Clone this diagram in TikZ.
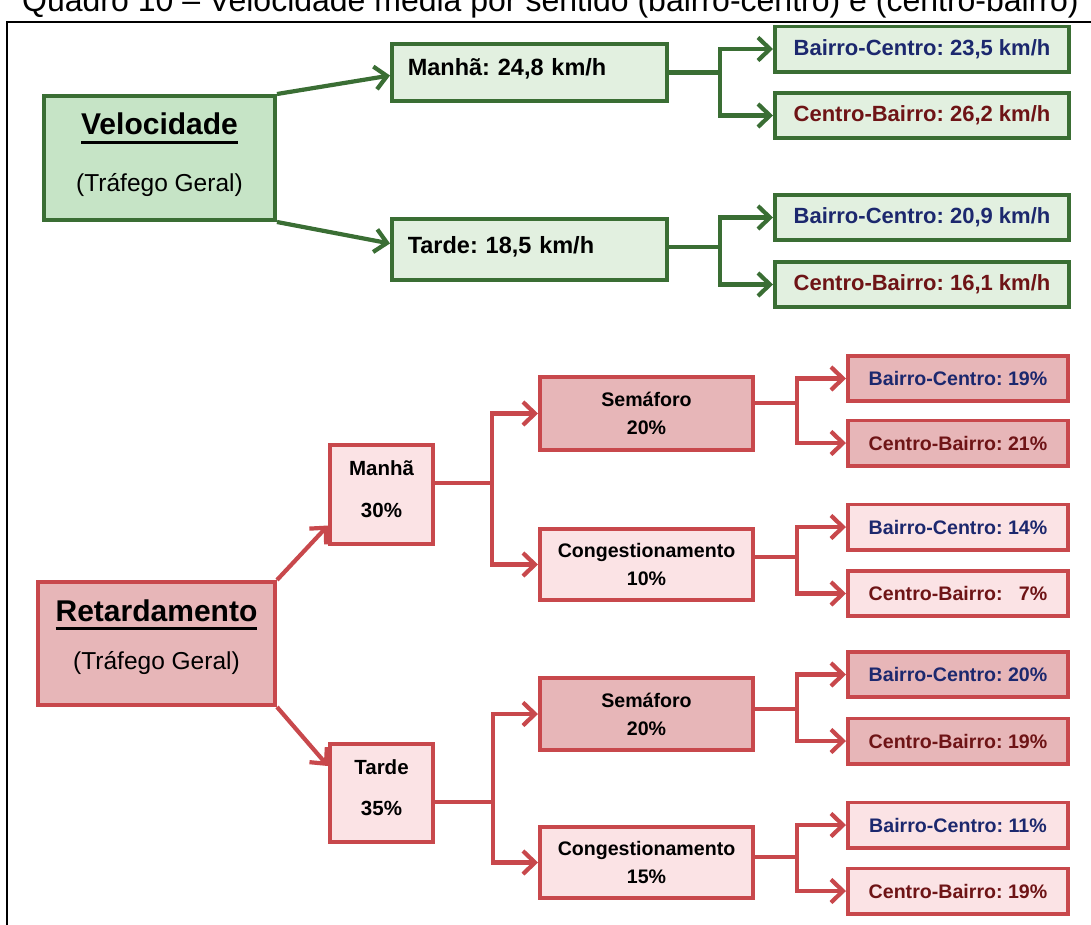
\documentclass[tikz,border=0pt]{standalone}
\usepackage{fontspec}
\setmainfont{Liberation Sans}
\usetikzlibrary{arrows.meta,shadows}

\definecolor{gline}{RGB}{58,110,52}
\definecolor{gmid}{RGB}{198,228,198}
\definecolor{gpale}{RGB}{226,240,224}
\definecolor{rline}{RGB}{200,72,76}
\definecolor{rmid}{RGB}{231,182,184}
\definecolor{rpale}{RGB}{251,227,229}
\definecolor{navy}{RGB}{28,40,110}
\definecolor{maroon}{RGB}{110,20,22}

% heavy underline: #1 = drop below the baseline
\newcommand\ulword[2]{\sbox0{#2}\rlap{\rule[-#1]{\wd0}{3pt}}\usebox0}
\newcommand\fs[2]{\fontsize{#1}{#2}\selectfont}
\newcommand\lowstrut[1]{\rule[-#1]{0pt}{0pt}}

\tikzset{
  box/.style={draw, line width=3.6pt, inner sep=0pt, align=center, font=\bfseries,
    drop shadow={opacity=0.22, shadow xshift=1.5pt, shadow yshift=-2pt}},
  gbox/.style={box, draw=gline, fill=gpale},
  rbox/.style={box, draw=rline, fill=rpale},
  gleaf/.style={gbox, minimum width=294.4pt, minimum height=45.4pt,
    font=\bfseries\fs{22}{26}, text height=16pt, text depth=4pt},
  rleaf/.style={rbox, minimum width=220.4pt, minimum height=45.4pt,
    font=\bfseries\fs{19.6}{24}, text height=14pt, text depth=0pt},
  rmidbox/.style={rbox, minimum width=213.4pt, font=\bfseries\fs{19.6}{28}},
  gconn/.style={draw=gline, line width=4.2pt},
  rconn/.style={draw=rline, line width=4.2pt},
  tipstyle/.style={-{Straight Barb[length=12pt, width=23pt, line width=4.2pt]}},
  garrow/.style={gconn, tipstyle},
  rarrow/.style={rconn, tipstyle},
}

\begin{document}
\frenchspacing
\begin{tikzpicture}[x=1pt,y=-1pt]
\useasboundingbox (0,0) rectangle (1091,924);
\clip (0,0) rectangle (1091,924);
\fill[white] (0,0) rectangle (1091,924);

% caption and frame
\node[anchor=base west, inner sep=0pt, font=\fs{32}{38}] (cap) at (22,11)
  {Quadro 10 – Velocidade média por sentido (bairro-centro) e (centro-bairro)};
\draw[line width=2.6pt] (7,940) -- (7,22) -- (1110,22);

% ---------- Velocidade ----------
\node[gbox, fill=gmid, minimum width=231.4pt, minimum height=124.4pt, font=\fs{24.5}{57}] (vel)
  at (159.5,158) {{\fs{30}{57}\bfseries\ulword{9pt}{Velocidade}}\\(Tráfego Geral)\lowstrut{11pt}};

\node[gbox, minimum height=57.4pt, text width=243.4pt, inner xsep=16pt, align=left,
  font=\bfseries\fs{23.5}{28}, text height=17pt, text depth=11pt] (manha)
  at (529.5,72.5) {Manhã: 24,8 km/h};
\node[gbox, minimum height=61.4pt, text width=243.4pt, inner xsep=16pt, align=left,
  font=\bfseries\fs{23.5}{28}, text height=17pt, text depth=10pt] (tarde)
  at (529.5,249.5) {Tarde: 18,5 km/h};

\node[gleaf, text=navy]   (bc1) at (922,49)    {Bairro-Centro: 23,5 km/h};
\node[gleaf, text=maroon] (cb1) at (922,115.5) {Centro-Bairro: 26,2 km/h};
\node[gleaf, text=navy]   (bc2) at (922,217.5) {Bairro-Centro: 20,9 km/h};
\node[gleaf, text=maroon] (cb2) at (922,284.5) {Centro-Bairro: 16,1 km/h};

\draw[garrow] (vel.north east) -- ([yshift=-3pt]manha.west);
\draw[garrow] (vel.south east) -- ([yshift=6pt]tarde.west);

\coordinate (fg1) at (720,72.5);
\draw[gconn] (manha.east) -- (fg1);
\draw[garrow] (fg1) |- (bc1.west);
\draw[garrow] (fg1) |- (cb1.west);

\coordinate (fg2) at (720,247);
\draw[gconn] ([yshift=2.5pt]tarde.east) -- (fg2);
\draw[garrow] (fg2) |- (bc2.west);
\draw[garrow] (fg2) |- (cb2.west);

% ---------- Retardamento ----------
\node[rbox, fill=rmid, minimum width=237.4pt, minimum height=123.4pt, font=\fs{24.5}{48}] (ret)
  at (156.5,643.5) {{\fs{30}{48}\bfseries\ulword{8.5pt}{Retardamento}}\\(Tráfego Geral)\lowstrut{17pt}};

\node[rbox, minimum width=103.4pt, minimum height=99.4pt, font=\bfseries\fs{20.5}{42}] (m30)
  at (381.5,494.5) {Manhã\\30\%\lowstrut{11pt}};
\node[rbox, minimum width=103.4pt, minimum height=98.4pt, font=\bfseries\fs{20.5}{41}] (t35)
  at (381.5,793) {Tarde\\35\%\lowstrut{11pt}};

\node[rmidbox, fill=rmid, minimum height=73.4pt] (sem1) at (646.5,413.5) {Semáforo\\20\%};
\node[rmidbox, minimum height=71.4pt]            (con1) at (646.5,564.5) {Congestionamento\\10\%};
\node[rmidbox, fill=rmid, minimum height=72.4pt] (sem2) at (646.5,714)   {Semáforo\\20\%};
\node[rmidbox, minimum height=71.4pt]            (con2) at (646.5,862.5) {Congestionamento\\15\%};

\node[rleaf, fill=rmid, text=navy]   (r1) at (958,378.5) {Bairro-Centro: 19\%};
\node[rleaf, fill=rmid, text=maroon] (r2) at (958,443)   {Centro-Bairro: 21\%};
\node[rleaf, text=navy]              (r3) at (958,527)   {Bairro-Centro: 14\%};
\node[rleaf, text=maroon]            (r4) at (958,593.5) {Centro-Bairro: \phantom{2}7\%};
\node[rleaf, fill=rmid, text=navy]   (r5) at (958,674.5) {Bairro-Centro: 20\%};
\node[rleaf, fill=rmid, text=maroon] (r6) at (958,741)   {Centro-Bairro: 19\%};
\node[rleaf, text=navy]              (r7) at (958,825)   {Bairro-Centro: 11\%};
\node[rleaf, text=maroon]            (r8) at (958,891)   {Centro-Bairro: 19\%};

\draw[rarrow] (ret.north east) -- ([yshift=-31pt]m30.west);
\draw[rarrow] (ret.south east) -- ([yshift=27pt]t35.west);

\coordinate (fr1) at (492,483);
\draw[rconn] ([yshift=11.5pt]m30.east) -- (fr1);
\draw[rarrow] (fr1) |- (sem1.west);
\draw[rarrow] (fr1) |- (con1.west);

\coordinate (fr2) at (493,802);
\draw[rconn] ([yshift=-9pt]t35.east) -- (fr2);
\draw[rarrow] (fr2) |- (sem2.west);
\draw[rarrow] (fr2) |- (con2.west);

\coordinate (fr3) at (797,403);
\draw[rconn] ([yshift=10.5pt]sem1.east) -- (fr3);
\draw[rarrow] (fr3) |- (r1.west);
\draw[rarrow] (fr3) |- (r2.west);

\coordinate (fr4) at (797,557);
\draw[rconn] ([yshift=7.5pt]con1.east) -- (fr4);
\draw[rarrow] (fr4) |- (r3.west);
\draw[rarrow] (fr4) |- (r4.west);

\coordinate (fr5) at (797,709);
\draw[rconn] ([yshift=5pt]sem2.east) -- (fr5);
\draw[rarrow] (fr5) |- (r5.west);
\draw[rarrow] (fr5) |- (r6.west);

\coordinate (fr6) at (797,857);
\draw[rconn] ([yshift=5.5pt]con2.east) -- (fr6);
\draw[rarrow] (fr6) |- (r7.west);
\draw[rarrow] (fr6) |- (r8.west);
\end{tikzpicture}
\end{document}
